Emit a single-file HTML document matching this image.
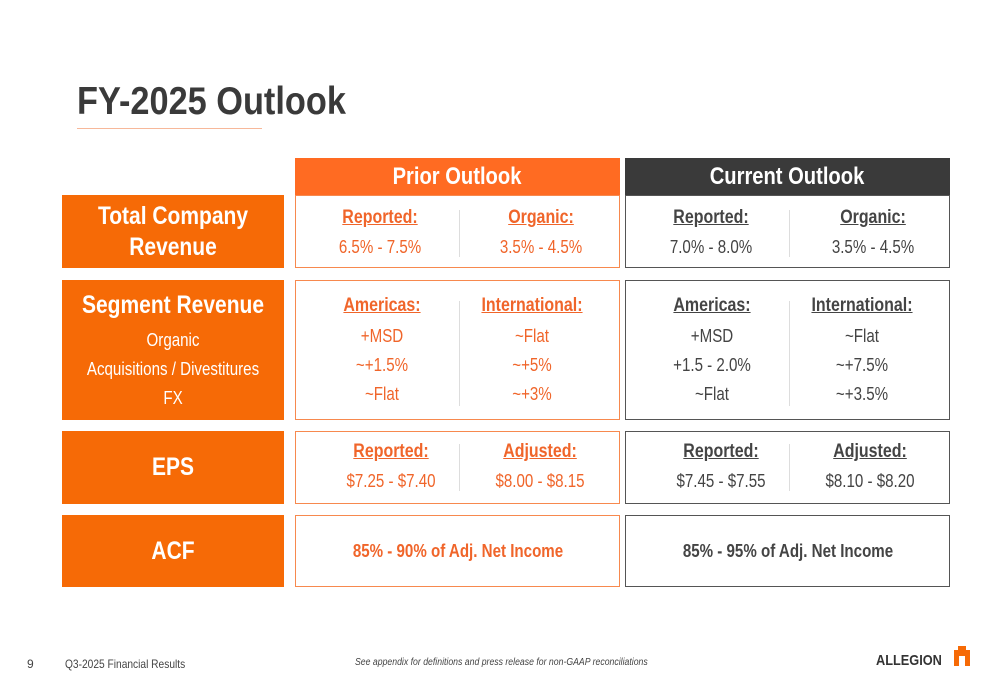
<!DOCTYPE html>
<html><head><meta charset="utf-8"><style>
body{margin:0;width:1000px;height:685px;background:#fff;position:relative;overflow:hidden;font-family:"Liberation Sans",sans-serif}
.a{position:absolute;box-sizing:border-box}
.t{position:absolute;text-align:center;white-space:nowrap;transform:translateX(-50%) scaleX(0.84)}
.s{transform-origin:left top;transform:scaleX(0.85);white-space:nowrap}
.lab{background:#F66A06;color:#fff}
.pb{border:1.5px solid #F7894E}
.cb{border:1.5px solid #555}
.o{color:#F0652A}.d{color:#444}
.h{font-weight:bold;text-decoration:underline;font-size:19px}
.v{font-size:18px}
.div{position:absolute;width:1px;background:#ddd}
</style></head><body>
<div class="a s" style="left:77px;top:80px;font-size:39px;font-weight:bold;color:#3a3a3a;transform:scaleX(0.88)">FY-2025 Outlook</div>
<div class="a" style="left:77px;top:128px;width:185px;height:1px;background:#F7B89A"></div>

<div class="a" style="left:295px;top:158px;width:325px;height:37px;background:#FF6B22;color:#fff;font-weight:bold;font-size:24px;line-height:37px"><div class="t" style="left:162px;top:0">Prior Outlook</div></div>
<div class="a" style="left:625px;top:158px;width:325px;height:37px;background:#3a3a3a;color:#fff;font-weight:bold;font-size:24px;line-height:37px"><div class="t" style="left:162px;top:0">Current Outlook</div></div>

<div class="a lab" style="left:62px;top:195px;width:222px;height:73px"><div class="t" style="left:111px;top:6px;font-size:25px;font-weight:bold;line-height:31px">Total Company<br>Revenue</div></div>
<div class="a lab" style="left:62px;top:280px;width:222px;height:140px"><div class="t" style="left:111px;top:11px;font-size:25px;font-weight:bold">Segment Revenue</div><div class="t" style="left:111px;top:46px;font-size:18px;line-height:29px">Organic<br>Acquisitions / Divestitures<br>FX</div></div>
<div class="a lab" style="left:62px;top:431px;width:222px;height:73px"><div class="t" style="left:111px;top:22px;font-size:25px;font-weight:bold">EPS</div></div>
<div class="a lab" style="left:62px;top:515px;width:222px;height:72px"><div class="t" style="left:111px;top:22px;font-size:25px;font-weight:bold">ACF</div></div>

<div class="a pb" style="left:295px;top:195px;width:325px;height:73px">
<div class="div" style="left:163px;top:14px;height:47px"></div>
<div class="t o h" style="left:84px;top:11px">Reported:</div><div class="t o v" style="left:84px;top:41px">6.5% - 7.5%</div>
<div class="t o h" style="left:245px;top:11px">Organic:</div><div class="t o v" style="left:245px;top:41px">3.5% - 4.5%</div></div>
<div class="a pb" style="left:295px;top:280px;width:325px;height:140px">
<div class="div" style="left:163px;top:20px;height:105px"></div>
<div class="t o h" style="left:86px;top:14px">Americas:</div><div class="t o v" style="left:86px;top:41px;line-height:29px">+MSD<br>~+1.5%<br>~Flat</div>
<div class="t o h" style="left:236px;top:14px">International:</div><div class="t o v" style="left:236px;top:41px;line-height:29px">~Flat<br>~+5%<br>~+3%</div></div>
<div class="a pb" style="left:295px;top:431px;width:325px;height:73px">
<div class="div" style="left:163px;top:12px;height:47px"></div>
<div class="t o h" style="left:95px;top:9px">Reported:</div><div class="t o v" style="left:95px;top:39px">$7.25 - $7.40</div>
<div class="t o h" style="left:244px;top:9px">Adjusted:</div><div class="t o v" style="left:244px;top:39px">$8.00 - $8.15</div></div>
<div class="a pb" style="left:295px;top:515px;width:325px;height:72px">
<div class="t o" style="left:162px;top:25px;font-size:18px;font-weight:bold">85% - 90% of Adj. Net Income</div></div>

<div class="a cb" style="left:625px;top:195px;width:325px;height:73px">
<div class="div" style="left:163px;top:14px;height:47px"></div>
<div class="t d h" style="left:85px;top:11px">Reported:</div><div class="t d v" style="left:85px;top:41px">7.0% - 8.0%</div>
<div class="t d h" style="left:247px;top:11px">Organic:</div><div class="t d v" style="left:247px;top:41px">3.5% - 4.5%</div></div>
<div class="a cb" style="left:625px;top:280px;width:325px;height:140px">
<div class="div" style="left:163px;top:20px;height:105px"></div>
<div class="t d h" style="left:86px;top:14px">Americas:</div><div class="t d v" style="left:86px;top:41px;line-height:29px">+MSD<br>+1.5 - 2.0%<br>~Flat</div>
<div class="t d h" style="left:236px;top:14px">International:</div><div class="t d v" style="left:236px;top:41px;line-height:29px">~Flat<br>~+7.5%<br>~+3.5%</div></div>
<div class="a cb" style="left:625px;top:431px;width:325px;height:73px">
<div class="div" style="left:163px;top:12px;height:47px"></div>
<div class="t d h" style="left:95px;top:9px">Reported:</div><div class="t d v" style="left:95px;top:39px">$7.45 - $7.55</div>
<div class="t d h" style="left:244px;top:9px">Adjusted:</div><div class="t d v" style="left:244px;top:39px">$8.10 - $8.20</div></div>
<div class="a cb" style="left:625px;top:515px;width:325px;height:72px">
<div class="t d" style="left:162px;top:25px;font-size:18px;font-weight:bold">85% - 95% of Adj. Net Income</div></div>

<div class="a" style="left:27px;top:657px;font-size:12px;color:#444">9</div>
<div class="a s" style="left:65px;top:657px;font-size:12px;color:#444">Q3-2025 Financial Results</div>
<div class="a s" style="left:355px;top:657px;font-size:10px;font-style:italic;color:#444;transform:scaleX(0.87)">See appendix for definitions and press release for non-GAAP reconciliations</div>
<div class="a s" style="left:876px;top:652px;font-size:15px;font-weight:bold;color:#333">ALLEGION</div>
<svg class="a" style="left:952px;top:646px" width="20" height="24"><path d="M2 4h16v16h-5v-10h-6v10h-5z" fill="#F66A06"/><rect x="6" y="0" width="8" height="4" fill="#F66A06"/></svg>
</body></html>
